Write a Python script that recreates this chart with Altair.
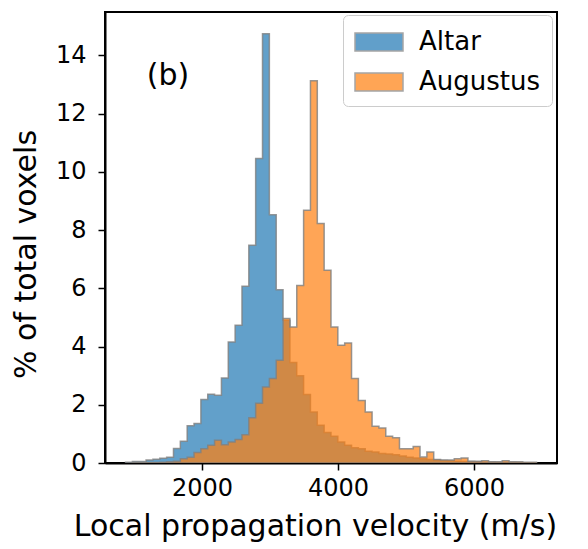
import altair as alt
import pandas as pd

# Histogram bins (m/s): 60 equal-width bins
BIN_START = 877.0
BIN_WIDTH = 100.68

series_names = ["Altar", "Augustus"]
series_colors = ["#1f77b4", "#ff7f0e"]

# % of total voxels per bin
altar_pct = [0.03, 0.05, 0.05, 0.10, 0.13, 0.16, 0.20, 0.50, 0.75, 1.28,
             1.36, 2.18, 2.36, 2.33, 2.92, 4.16, 4.73, 6.07, 7.48, 10.46,
             14.74, 8.53, 5.95, 4.90, 3.45, 3.00, 2.35, 1.75, 1.30, 1.05,
             0.92, 0.72, 0.61, 0.52, 0.49, 0.40, 0.38, 0.33, 0.31, 0.28,
             0.24, 0.20, 0.17, 0.15, 0.12, 0.10, 0.09, 0.08, 0.06, 0.05,
             0.05, 0.04, 0.03, 0.03, 0.02, 0.02, 0.02, 0.01, 0.01, 0.01]
augustus_pct = [0.00, 0.01, 0.01, 0.02, 0.02, 0.03, 0.04, 0.06, 0.15, 0.20,
                0.36, 0.49, 0.61, 0.78, 0.63, 0.72, 0.81, 0.97, 1.55, 2.05,
                2.61, 2.90, 3.53, 4.96, 4.67, 6.10, 8.68, 13.13, 8.23, 6.62,
                4.67, 4.04, 4.12, 2.90, 2.15, 1.75, 1.26, 1.20, 0.92, 0.87,
                0.49, 0.49, 0.57, 0.21, 0.38, 0.12, 0.10, 0.10, 0.15, 0.17,
                0.06, 0.06, 0.08, 0.04, 0.04, 0.08, 0.04, 0.04, 0.03, 0.03]

x_ticks = [2000, 4000, 6000]
y_ticks = [0, 2, 4, 6, 8, 10, 12, 14]


def step_rows(name, vals):
    rows = [{"v": BIN_START + BIN_WIDTH * k, "pct": p, "series": name}
            for k, p in enumerate(vals)]
    rows.append({"v": BIN_START + BIN_WIDTH * len(vals), "pct": 0.0, "series": name})
    return rows


df = pd.DataFrame(step_rows("Altar", altar_pct) + step_rows("Augustus", augustus_pct))

FONT = "DejaVu Sans"

x_enc = alt.X(
    "v:Q",
    scale=alt.Scale(domain=[575, 7220], nice=False, zero=False),
    axis=alt.Axis(values=x_ticks, format="d", title="Local propagation velocity (m/s)",
                  labelPadding=6, titlePadding=11, titleX=210),
)
y_enc = alt.Y(
    "pct:Q",
    stack=None,
    scale=alt.Scale(domain=[0, 15.49], nice=False),
    axis=alt.Axis(values=y_ticks, format="d", title="% of total voxels",
                  labelPadding=12, titlePadding=14, titleY=242),
)
fill_enc = alt.Fill(
    "series:N",
    scale=alt.Scale(domain=series_names, range=series_colors),
    legend=alt.Legend(
        title=None,
        orient="none",
        legendX=238,
        legendY=3,
        labelFontSize=26,
        labelFont=FONT,
        labelColor="black",
        labelOffset=33,
        labelLimit=400,
        symbolType="M-1,-0.6L2.2,-0.6L2.2,0.6L-1,0.6Z",
        symbolSize=900,
        symbolOpacity=0.7,
        symbolStrokeColor="gray",
        symbolStrokeWidth=1.5,
        rowPadding=11,
        padding=11,
        fillColor="white",
        strokeColor="#cccccc",
        cornerRadius=5,
    ),
)

base = alt.Chart(df).mark_area(
    interpolate="step-after",
    fillOpacity=0.7,
    stroke="gray",
    strokeWidth=1.5,
    strokeOpacity=0.8,
    clip=True,
)

blue = base.transform_filter(alt.datum.series == "Altar").encode(x=x_enc, y=y_enc, fill=fill_enc)
orange = base.transform_filter(alt.datum.series == "Augustus").encode(x=x_enc, y=y_enc, fill=fill_enc)

label = alt.Chart(pd.DataFrame({"t": ["(b)"]})).mark_text(
    fontSize=30, font=FONT, color="black", align="center", baseline="middle"
).encode(x=alt.value(63), y=alt.value(64), text="t:N")

chart = (
    alt.layer(blue, orange, label)
    .properties(
        width=452,
        height=451,
        autosize=alt.AutoSizeParams(type="none"),
        padding={"left": 97, "top": 4, "right": 20, "bottom": 84},
    )
    .configure(font=FONT)
    .configure_view(stroke="black", strokeWidth=2)
    .configure_axis(
        grid=False,
        domainColor="black",
        domainWidth=2,
        tickColor="black",
        tickWidth=1.5,
        tickSize=7,
        labelFontSize=24,
        labelColor="black",
        labelFont=FONT,
        titleFontSize=30,
        titleFontWeight="normal",
        titleColor="black",
        titleFont=FONT,
    )
)

chart.save("out.html", embed_options={"renderer": "svg", "actions": False})
